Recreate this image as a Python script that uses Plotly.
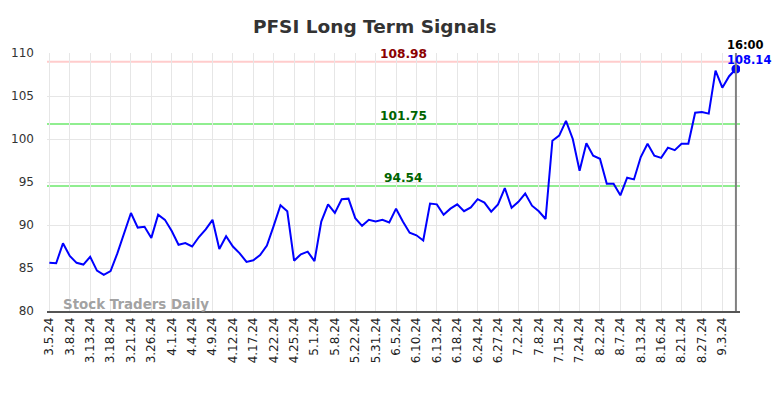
import plotly.graph_objects as go

tick_labels = ["3.5.24", "3.8.24", "3.13.24", "3.18.24", "3.21.24", "3.26.24", "4.1.24", "4.4.24",
               "4.9.24", "4.12.24", "4.17.24", "4.22.24", "4.25.24", "5.1.24", "5.8.24", "5.22.24",
               "5.31.24", "6.5.24", "6.10.24", "6.13.24", "6.18.24", "6.24.24", "6.27.24", "7.2.24",
               "7.8.24", "7.15.24", "7.24.24", "8.2.24", "8.7.24", "8.13.24", "8.16.24", "8.21.24",
               "8.27.24", "9.3.24"]

prices = [85.62, 85.55, 87.87, 86.4, 85.6, 85.4, 86.3, 84.7, 84.2, 84.65,
          86.7, 89.0, 91.4, 89.7, 89.8, 88.5, 91.2, 90.6, 89.3, 87.7,
          87.9, 87.5, 88.6, 89.5, 90.6, 87.2, 88.7, 87.5, 86.7, 85.7,
          85.9, 86.5, 87.6, 89.9, 92.3, 91.6, 85.85, 86.6, 86.9, 85.8,
          90.4, 92.4, 91.4, 93.0, 93.06, 90.8, 89.9, 90.6, 90.4, 90.6,
          90.3, 91.9, 90.4, 89.1, 88.8, 88.2, 92.5, 92.4, 91.2, 91.9,
          92.4, 91.6, 92.05, 93.0, 92.6, 91.55, 92.4, 94.3, 92.0, 92.7,
          93.65, 92.25, 91.6, 90.7, 99.8, 100.4, 102.1, 100.0, 96.3, 99.5,
          98.06, 97.7, 94.8, 94.8, 93.45, 95.5, 95.3, 97.9, 99.45, 98.06,
          97.8, 99.0, 98.7, 99.45, 99.45, 103.06, 103.14, 102.95, 107.95, 105.97,
          107.3, 108.14]

levels = [108.98, 101.75, 94.54]
level_line_colors = ["#ffcccc", "#90ee90", "#90ee90"]
level_text_colors = ["#8b0000", "#006400", "#006400"]
last_time = "16:00"

x_idx = list(range(len(prices)))
tick_vals = list(range(0, 3 * len(tick_labels), 3))
last_i = x_idx[-1]
last_v = prices[-1]

fig = go.Figure()
fig.add_trace(go.Scatter(x=x_idx, y=prices, mode="lines",
                         line=dict(color="#0000ff", width=2), hoverinfo="skip"))
fig.add_trace(go.Scatter(x=[last_i], y=[last_v], mode="markers",
                         marker=dict(color="#0000ff", size=9), hoverinfo="skip"))

for lv, lc, tc in zip(levels, level_line_colors, level_text_colors):
    fig.add_shape(type="line", xref="paper", x0=0, x1=1, yref="y", y0=lv, y1=lv,
                  line=dict(color=lc, width=2), layer="below")
    fig.add_annotation(xref="paper", x=0.514, yref="y", y=lv, text=f"<b>{lv:.2f}</b>",
                       showarrow=False, xanchor="center", yanchor="bottom", yshift=-1,
                       font=dict(family="DejaVu Sans", size=12.2, color=tc))

fig.add_shape(type="line", xref="x", x0=last_i, x1=last_i, yref="paper", y0=0, y1=1,
              line=dict(color="#808080", width=2))

fig.add_annotation(xref="x", x=last_i, yref="paper", y=1, text=f"<b>{last_time}</b>",
                   showarrow=False, xanchor="center", yanchor="middle", xshift=9.5, yshift=8,
                   borderpad=0,
                   font=dict(family="DejaVu Sans", size=11.5, color="#000000"))
fig.add_annotation(xref="x", x=last_i, yref="y", y=last_v, text=f"<b>{last_v:.2f}</b>",
                   showarrow=False, xanchor="center", yanchor="middle", xshift=13, yshift=9,
                   borderpad=0,
                   font=dict(family="DejaVu Sans", size=11.5, color="#0000ff"))

fig.add_annotation(xref="paper", x=0.02, yref="paper", y=0.0, text="<b>Stock Traders Daily</b>",
                   showarrow=False, xanchor="left", yanchor="bottom", yshift=-3,
                   font=dict(family="DejaVu Sans", size=13.4, color="rgba(150,150,150,0.9)"))

fig.update_layout(
    width=784, height=398,
    margin=dict(l=47, r=44, t=53, b=87),
    paper_bgcolor="white", plot_bgcolor="white",
    showlegend=False,
    title=dict(text="<b>PFSI Long Term Signals</b>", x=0.478, xanchor="center",
               y=0.933, yanchor="middle",
               font=dict(family="DejaVu Sans", size=18.5, color="#333333")),
    xaxis=dict(range=[-0.35, last_i + 0.6], tickmode="array", tickvals=tick_vals,
               ticktext=tick_labels, tickangle=-90, showgrid=True, gridcolor="#e6e6e6",
               gridwidth=1, showline=True, linecolor="#555555", linewidth=1.5,
               ticks="", zeroline=False,
               tickfont=dict(family="DejaVu Sans", size=12, color="#222222")),
    yaxis=dict(range=[80, 110], tickmode="array", tickvals=[80, 85, 90, 95, 100, 105, 110],
               showgrid=True, gridcolor="#e6e6e6", gridwidth=1, zeroline=False,
               showline=False, ticks="", ticklabelstandoff=12,
               tickfont=dict(family="DejaVu Sans", size=12, color="#333333")),
)

fig.write_html("out.html", config={"displayModeBar": False},
               post_script="document.body.style.margin='0';")
